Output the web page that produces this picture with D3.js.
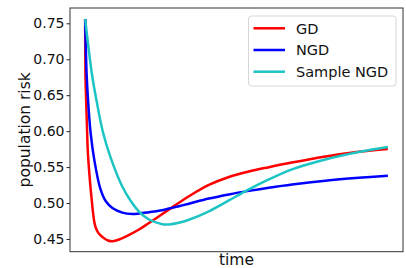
<!DOCTYPE html>
<html>
<head>
<meta charset="utf-8">
<script src="https://cdn.jsdelivr.net/npm/d3@7"></script>
<style>
  body { margin: 0; background: #fff; }
  svg { font-family: "DejaVu Sans", sans-serif; }
</style>
</head>
<body>
<svg id="chart"></svg>
<script>
// values (time is arbitrary 0..100)
var gdTime = [0, 0.10, 0.33, 0.66, 0.86, 1.29, 1.85, 2.34, 2.70, 3.03, 3.49, 4.06, 4.95, 6.26, 7.58, 9.00, 11.21, 14.51, 17.80, 21.10, 24.40, 27.70, 30.99, 34.29, 40.88, 47.48, 54.07, 60.67, 68.25, 79.46, 90.34, 100];
var gdRisk = [0.7560, 0.6795, 0.6433, 0.5988, 0.5738, 0.5460, 0.5182, 0.4973, 0.4834, 0.4737, 0.4660, 0.4607, 0.4556, 0.4511, 0.4479, 0.4468, 0.4492, 0.4556, 0.4632, 0.4723, 0.4816, 0.4910, 0.5004, 0.5094, 0.5251, 0.5362, 0.5439, 0.5499, 0.5563, 0.5648, 0.5713, 0.5752];

var ngdTime = [0, 0.49, 0.96, 1.78, 3.03, 5.04, 6.83, 9.00, 12.30, 15.60, 17.80, 21.10, 24.40, 27.70, 30.99, 34.29, 40.88, 47.48, 54.07, 60.67, 68.35, 79.36, 90.34, 100];
var ngdRisk = [0.7560, 0.6795, 0.6433, 0.5988, 0.5599, 0.5196, 0.5024, 0.4931, 0.4867, 0.4848, 0.4855, 0.4873, 0.4892, 0.4923, 0.4956, 0.4991, 0.5062, 0.5120, 0.5169, 0.5212, 0.5257, 0.5310, 0.5351, 0.5381];

var sampleTime = [0, 2.24, 3.73, 5.87, 8.34, 12.10, 15.07, 17.80, 21.10, 25.49, 27.70, 30.99, 34.29, 40.88, 47.48, 54.07, 60.67, 68.35, 79.36, 90.34, 100];
var sampleRisk = [0.7560, 0.6795, 0.6433, 0.5988, 0.5641, 0.5244, 0.5029, 0.4882, 0.4771, 0.4706, 0.4702, 0.4725, 0.4767, 0.4885, 0.5036, 0.5189, 0.5328, 0.5469, 0.5606, 0.5710, 0.5780];

var seriesNames = ["GD", "NGD", "Sample NGD"];
var seriesColors = ["#ff0000", "#0000ff", "#1cc4c4"];
var yTicks = [0.45, 0.50, 0.55, 0.60, 0.65, 0.70, 0.75];

var W = 406, H = 268;
var margin = { top: 8, right: 3, bottom: 16.3, left: 70 };
var width = W - margin.left - margin.right;
var height = H - margin.top - margin.bottom;

var svg = d3.select("#chart").attr("width", W).attr("height", H);
var g = svg.append("g").attr("transform", "translate(" + margin.left + "," + margin.top + ")");

var x = d3.scaleLinear().domain([-5, 105]).range([0, width]);
var y = d3.scaleLinear().domain([0.4323, 0.7713]).range([height, 0]);

g.append("clipPath").attr("id", "clip")
  .append("rect").attr("width", width).attr("height", height);

var series = [
  { t: gdTime, v: gdRisk },
  { t: ngdTime, v: ngdRisk },
  { t: sampleTime, v: sampleRisk }
];

// centripetal catmull-rom keeps the bends round without overshoot
var line = d3.line()
  .x(function (d) { return x(d[0]); })
  .y(function (d) { return y(d[1]); })
  .curve(d3.curveCatmullRom.alpha(0.5));

series.forEach(function (s, i) {
  g.append("path")
    .datum(d3.zip(s.t, s.v))
    .attr("clip-path", "url(#clip)")
    .attr("fill", "none")
    .attr("stroke", seriesColors[i])
    .attr("stroke-width", 2.5)
    .attr("stroke-linejoin", "round")
    .attr("d", line);
});

// y axis
var yAxis = g.append("g")
  .call(d3.axisLeft(y).tickValues(yTicks).tickFormat(d3.format(".2f")).tickSize(3.5).tickPadding(2));
yAxis.select(".domain").remove();
yAxis.selectAll(".tick line").attr("stroke", "#222").attr("stroke-width", 1);
yAxis.selectAll("text").attr("font-size", 14).attr("fill", "#111")
  .attr("font-family", "DejaVu Sans");

// frame
g.append("rect")
  .attr("width", width).attr("height", height)
  .attr("fill", "none").attr("stroke", "#333").attr("stroke-width", 1);

// axis labels
svg.append("text")
  .attr("x", margin.left + width / 2)
  .attr("y", 265)
  .attr("text-anchor", "middle")
  .attr("font-size", 15.5)
  .attr("fill", "#111")
  .text("time");

svg.append("text")
  .attr("transform", "translate(30," + (margin.top + height / 2) + ") rotate(-90)")
  .attr("text-anchor", "middle")
  .attr("font-size", 15.5)
  .attr("fill", "#111")
  .text("population risk");

// legend
var lg = svg.append("g").attr("transform", "translate(248.5,16)");
lg.append("rect")
  .attr("width", 147.5).attr("height", 70)
  .attr("rx", 3)
  .attr("fill", "#fff").attr("fill-opacity", 0.8)
  .attr("stroke", "#d6d6d6").attr("stroke-width", 1);

seriesNames.forEach(function (name, i) {
  var cy = 12.3 + i * 21.7;
  lg.append("line")
    .attr("x1", 5).attr("x2", 36.5)
    .attr("y1", cy).attr("y2", cy)
    .attr("stroke", seriesColors[i]).attr("stroke-width", 2.5);
  lg.append("text")
    .attr("x", 47.5).attr("y", cy)
    .attr("dy", "0.36em")
    .attr("font-size", 14.5)
    .attr("fill", "#111")
    .text(name);
});
</script>
</body>
</html>
